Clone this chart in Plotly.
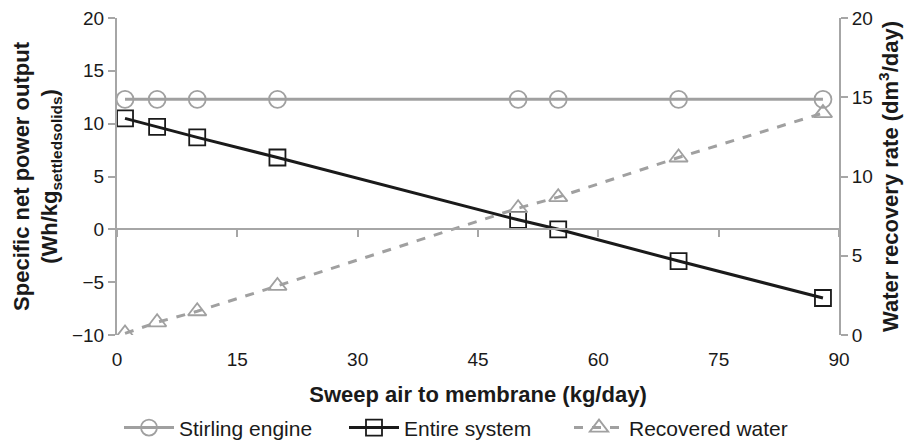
import plotly.graph_objects as go

sweep_air = [1, 5, 10, 20, 50, 55, 70, 88]
stirling_engine = [12.3, 12.3, 12.3, 12.3, 12.3, 12.3, 12.3, 12.3]
entire_system = [10.5, 9.7, 8.7, 6.8, 0.9, 0.0, -3.0, -6.5]
recovered_water = [0.1, 0.8, 1.5, 3.1, 8.0, 8.7, 11.2, 14.0]

x_ticks = [0, 15, 30, 45, 60, 75, 90]
y_left_ticks = [-10, -5, 0, 5, 10, 15, 20]
y_right_ticks = [0, 5, 10, 15, 20]

GREY = "#a0a0a0"
AXIS_GREY = "#a6a6a6"
FONT = "Liberation Sans, Arial, sans-serif"
INK = "#1a1a1a"

fig = go.Figure()
fig.add_trace(go.Scatter(
    x=sweep_air, y=stirling_engine, name="Stirling engine", mode="lines+markers",
    line=dict(color=GREY, width=3),
    marker=dict(symbol="circle-open", size=17, color=GREY, line=dict(width=1.8, color=GREY)),
))
fig.add_trace(go.Scatter(
    x=sweep_air, y=entire_system, name="Entire system", mode="lines+markers",
    line=dict(color=INK, width=3),
    marker=dict(symbol="square-open", size=16, color=INK, line=dict(width=1.8, color=INK)),
))
fig.add_trace(go.Scatter(
    x=sweep_air, y=recovered_water, name="Recovered water", mode="lines+markers",
    yaxis="y2",
    line=dict(color=GREY, width=3, dash="dash"),
    marker=dict(symbol="triangle-up-open", size=16, color=GREY, line=dict(width=1.8, color=GREY)),
))
# invisible helper trace so the axis line at y=0 is drawn
fig.add_trace(go.Scatter(x=[sweep_air[0]], y=[0], xaxis="x2", mode="markers",
                         marker=dict(opacity=0), showlegend=False, hoverinfo="skip"))

tick_font = dict(family=FONT, size=19, color=INK)
title_font = dict(family=FONT, size=22, color=INK)

fig.update_layout(
    width=913, height=443,
    margin=dict(l=117, r=74, t=18, b=108, autoexpand=False),
    plot_bgcolor="white", paper_bgcolor="white",
    font=dict(family=FONT, size=19, color=INK),
    xaxis=dict(
        range=[0, 90], tickvals=x_ticks, showline=False, showgrid=False, zeroline=False,
        ticks="outside", ticklen=7, tickcolor="rgba(0,0,0,0)", tickfont=tick_font, automargin=False,
        title=dict(text="<b>Sweep air to membrane (kg/day)</b>", font=title_font, standoff=21),
    ),
    xaxis2=dict(
        range=[0, 90], tickvals=x_ticks, overlaying="x", anchor="free", position=1/3,
        showline=True, linecolor=AXIS_GREY, linewidth=2, ticks="outside", ticklen=7,
        tickcolor=AXIS_GREY, tickwidth=1.5, showticklabels=False, showgrid=False, zeroline=False,
        matches="x", automargin=False,
    ),
    yaxis=dict(
        range=[-10, 20], tickvals=y_left_ticks, showline=True, linecolor=AXIS_GREY, linewidth=2,
        ticks="outside", ticklen=7, tickcolor=AXIS_GREY, tickwidth=1.5,
        showgrid=False, zeroline=False, tickfont=tick_font, automargin=False,
        title=dict(text="<b>Specific net power output<br>(Wh/kg<sub>settledsolids</sub>)</b>",
                   font=title_font, standoff=8),
    ),
    yaxis2=dict(
        range=[0, 20], tickvals=y_right_ticks, overlaying="y", side="right",
        showline=True, linecolor=AXIS_GREY, linewidth=2,
        ticks="outside", ticklen=7, tickcolor=AXIS_GREY, tickwidth=1.5,
        showgrid=False, zeroline=False, tickfont=tick_font, automargin=False,
        title=dict(text="<b>Water recovery rate (dm<sup>3</sup>/day)</b>", font=title_font, standoff=11),
    ),
    legend=dict(
        orientation="h", xref="container", x=0.5, xanchor="center",
        yref="container", y=0.034, yanchor="middle",
        font=dict(family=FONT, size=21, color=INK), itemwidth=50, entrywidth=160,
    ),
    showlegend=True,
)

fig.write_html("out.html")
